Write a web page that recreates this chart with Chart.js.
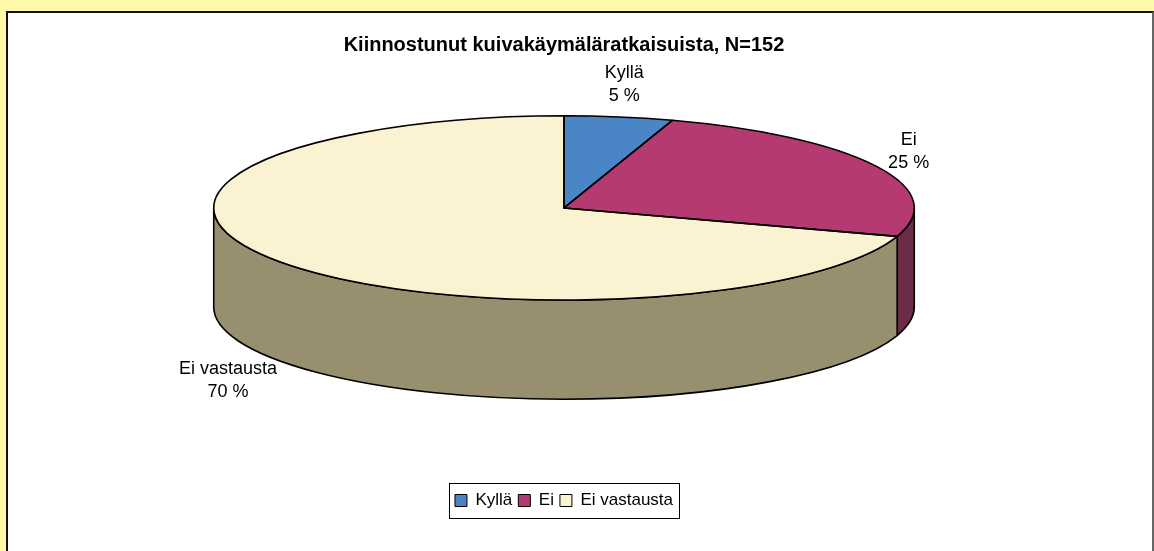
<!DOCTYPE html>
<html lang="fi">
<head>
<meta charset="utf-8">
<title>Kiinnostunut kuivakäymäläratkaisuista</title>
<script src="https://cdn.jsdelivr.net/npm/chart.js@4.4.1/dist/chart.umd.min.js"></script>
<style>
    html, body {
        margin: 0;
        padding: 0;
        width: 1154px;
        height: 551px;
        overflow: hidden;
        background: #FFF9AA;
        font-family: 'Liberation Sans', Arial, sans-serif;
    }
    .chart-panel {
        position: absolute;
        left: 6px;
        top: 11px;
        width: 1144px;
        height: 560px;
        background: #ffffff;
        border-left: 2px solid #111;
        border-top: 2px solid #111;
        border-right: 2px solid #666;
    }
    #pieChart {
        position: absolute;
        left: 0;
        top: 0;
    }
</style>
</head>
<body>
<div class="chart-panel"></div>
<canvas id="pieChart" width="1154" height="551"></canvas>

<script>
// ========================================
// DATA
// ========================================

const categories = ['Kyllä', 'Ei', 'Ei vastausta'];
const shares = [5, 25, 70]; // percent of N=152
const topColors = ['#4A86C6', '#B53A71', '#FAF2D0'];
const sideColors = ['#3B6B9F', '#6C2C48', '#988F6F'];
const chartTitle = 'Kiinnostunut kuivakäymäläratkaisuista, N=152';

// ========================================
// 3D LOOK (style only)
// ========================================

const STRETCH = 1.664;  // horizontal radius / chart radius
const TILT = 0.263;     // vertical radius / horizontal radius
const DEPTH = 0.283;    // wall height / horizontal radius
const LIFT = 18;        // move the cylinder a bit up
const FONT = "'Liberation Sans', Arial, sans-serif";

function pieGeometry(chart) {
    const meta = chart.getDatasetMeta(0);
    const first = meta.data[0];
    const R = first.outerRadius;
    const rx = R * STRETCH;
    const ry = rx * TILT;
    const depth = rx * DEPTH;
    return {
        arcs: meta.data,
        x: first.x,
        y: first.y,
        R: R,
        rx: rx,
        ry: ry,
        depth: depth,
        cy: first.y - depth / 2 - LIFT
    };
}

const pie3d = {
    id: 'pie3d',
    beforeDatasetsDraw(chart) {
        const ctx = chart.ctx;
        const g = pieGeometry(chart);

        // side walls, only the front half (0..PI) is visible
        g.arcs.forEach((arc, i) => {
            const a1 = Math.max(arc.startAngle, 0);
            const a2 = Math.min(arc.endAngle, Math.PI);
            if (a2 <= a1) return;
            ctx.save();
            ctx.beginPath();
            ctx.ellipse(g.x, g.cy, g.rx, g.ry, 0, a1, a2);
            ctx.ellipse(g.x, g.cy + g.depth, g.rx, g.ry, 0, a2, a1, true);
            ctx.closePath();
            ctx.fillStyle = sideColors[i];
            ctx.fill();
            ctx.lineWidth = 1.6;
            ctx.lineJoin = 'round';
            ctx.strokeStyle = '#000';
            ctx.stroke();
            ctx.restore();
        });

        // squash the library's circle into the top ellipse
        ctx.save();
        ctx.translate(g.x, g.cy);
        ctx.scale(g.rx / g.R, g.ry / g.R);
        ctx.translate(-g.x, -g.y);
    },
    afterDatasetsDraw(chart) {
        const ctx = chart.ctx;
        ctx.restore();
        const g = pieGeometry(chart);

        // outlines of the top face
        g.arcs.forEach(arc => {
            ctx.save();
            ctx.beginPath();
            ctx.moveTo(g.x, g.cy);
            ctx.ellipse(g.x, g.cy, g.rx, g.ry, 0, arc.startAngle, arc.endAngle);
            ctx.closePath();
            ctx.lineWidth = 1.6;
            ctx.lineJoin = 'round';
            ctx.strokeStyle = '#000';
            ctx.stroke();
            ctx.restore();
        });

        // data labels outside the pie
        ctx.save();
        ctx.font = '18px ' + FONT;
        ctx.fillStyle = '#000';
        ctx.textAlign = 'center';
        ctx.textBaseline = 'middle';
        const lineH = 23;
        g.arcs.forEach((arc, i) => {
            const mid = (arc.startAngle + arc.endAngle) / 2;
            const c = Math.cos(mid);
            const s = Math.sin(mid);
            const ax = g.x + g.rx * c;
            const ay = g.cy + g.ry * s + (s > 0 ? g.depth : 0);
            const lines = [categories[i], shares[i] + ' %'];
            const w = Math.max(...lines.map(t => ctx.measureText(t).width));
            const h = lines.length * lineH;
            const centerX = ax + c * (w / 2 + 16);
            const centerY = ay + s * (h / 2 + 10);
            lines.forEach((t, k) => {
                ctx.fillText(t, centerX, centerY - h / 2 + lineH * (k + 0.5));
            });
        });
        ctx.restore();
    },
    afterDraw(chart) {
        // framed legend like in the original
        const boxes = chart.legend && chart.legend.legendHitBoxes;
        if (!boxes || !boxes.length) return;
        const left = Math.min(...boxes.map(b => b.left)) - 6;
        const right = Math.max(...boxes.map(b => b.left + b.width)) + 6;
        const top = Math.min(...boxes.map(b => b.top)) - 9;
        const bottom = Math.max(...boxes.map(b => b.top + b.height)) + 9;
        const ctx = chart.ctx;
        ctx.save();
        ctx.strokeStyle = '#000';
        ctx.lineWidth = 1;
        ctx.strokeRect(Math.round(left) + 0.5, Math.round(top) + 0.5, Math.round(right - left), Math.round(bottom - top));
        ctx.restore();
    }
};

// ========================================
// CHART
// ========================================

new Chart(document.getElementById('pieChart'), {
    type: 'pie',
    data: {
        labels: categories,
        datasets: [{
            data: shares,
            backgroundColor: topColors,
            borderWidth: 0,
            clip: false
        }]
    },
    options: {
        responsive: false,
        animation: false,
        events: [],
        layout: {
            padding: { left: 0, right: 26, top: 0, bottom: 32 }
        },
        plugins: {
            title: {
                display: true,
                text: chartTitle,
                color: '#000',
                font: { family: FONT, size: 20, weight: 'bold' },
                padding: { top: 33, bottom: 8 }
            },
            legend: {
                position: 'bottom',
                labels: {
                    color: '#000',
                    font: { family: FONT, size: 17 },
                    boxWidth: 12,
                    boxHeight: 12,
                    padding: 6,
                    generateLabels(chart) {
                        return chart.data.labels.map((label, i) => ({
                            text: label,
                            fillStyle: topColors[i],
                            strokeStyle: '#000',
                            lineWidth: 1,
                            hidden: false,
                            index: i
                        }));
                    }
                }
            },
            tooltip: { enabled: false }
        }
    },
    plugins: [pie3d]
});
</script>
</body>
</html>
